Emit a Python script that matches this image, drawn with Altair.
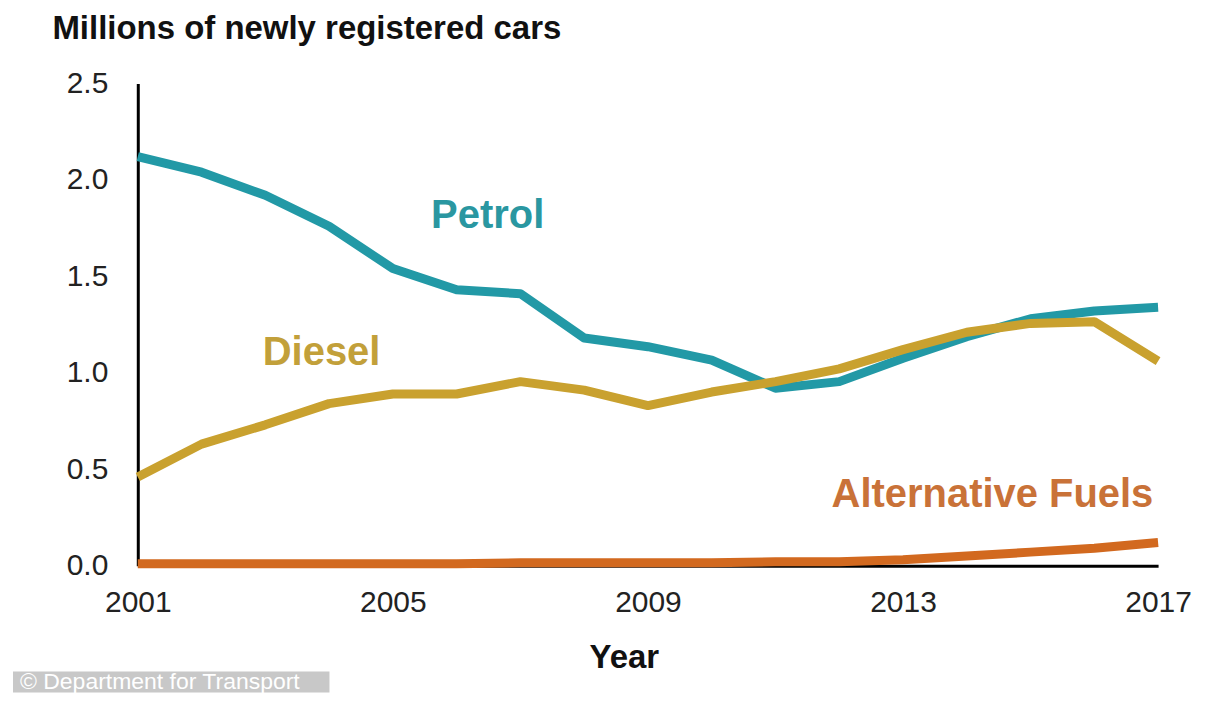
import altair as alt
import pandas as pd

years = list(range(2001, 2018))
petrol = [2.12, 2.04, 1.92, 1.76, 1.54, 1.43, 1.41, 1.18, 1.135, 1.066, 0.92, 0.954, 1.075, 1.187, 1.28, 1.32, 1.34]
diesel = [0.46, 0.63, 0.73, 0.84, 0.89, 0.89, 0.954, 0.91, 0.83, 0.90, 0.954, 1.02, 1.12, 1.21, 1.256, 1.265, 1.06]
alt_fuels = [0.01, 0.01, 0.01, 0.01, 0.01, 0.01, 0.015, 0.015, 0.015, 0.015, 0.02, 0.02, 0.03, 0.05, 0.07, 0.09, 0.12]

series_names = ["Petrol", "Diesel", "Alternative Fuels"]
line_colors = ["#2299A6", "#C9A12F", "#D2691F"]
text_colors = ["#2A97A1", "#C2A03A", "#C97238"]

label_year = [2005.6, 2002.96, 2011.88]
label_value = [1.75, 1.04, 0.305]

x_ticks = [2001, 2005, 2009, 2013, 2017]
y_ticks = [0.0, 0.5, 1.0, 1.5, 2.0, 2.5]

FONT = "Liberation Sans"

rows = []
for name, vals in zip(series_names, [petrol, diesel, alt_fuels]):
    for y, v in zip(years, vals):
        rows.append({"Year": y, "Value": v, "Series": name})
df = pd.DataFrame(rows)

labels = pd.DataFrame({"Series": series_names, "Year": label_year, "Value": label_value})

xscale = alt.Scale(domain=[2001, 2017], nice=False, zero=False)
yscale = alt.Scale(domain=[0, 2.5], nice=False)

x_axis = alt.Axis(values=x_ticks, format="d", title="Year", grid=False, ticks=False,
                  domainColor="black", domainWidth=3, labelFontSize=30, labelColor="#222",
                  labelFont=FONT, labelPadding=22, labelFlush=False, labelOverlap=False,
                  titleFont=FONT, titleFontSize=33,
                  titleFontWeight="bold", titleColor="#111", titleAngle=0,
                  titleAlign="left", titleBaseline="alphabetic", titleX=452, titleY=102)
y_axis = alt.Axis(values=y_ticks, format=".1f", title="Millions of newly registered cars",
                  grid=False, ticks=False, domainColor="black", domainWidth=3,
                  labelFontSize=30, labelColor="#222", labelFont=FONT, labelPadding=30,
                  labelFlush=False, labelOverlap=False,
                  titleFont=FONT, titleFontSize=33, titleFontWeight="bold", titleColor="#111",
                  titleAngle=0, titleAlign="left", titleBaseline="alphabetic",
                  titleX=-86, titleY=-45)

enc_x = alt.X("Year:Q", scale=xscale, axis=x_axis)
enc_y = alt.Y("Value:Q", scale=yscale, axis=y_axis)

layers = []
for i, name in enumerate(series_names):
    layers.append(
        alt.Chart(df).transform_filter(alt.datum.Series == name)
        .mark_line(strokeWidth=9, color=line_colors[i], strokeCap="butt", strokeJoin="round")
        .encode(x=enc_x, y=enc_y)
    )

text_layer = alt.Chart(labels).mark_text(
    font=FONT, fontSize=40, fontWeight="bold", align="left", baseline="alphabetic"
).encode(
    x=enc_x,
    y=enc_y,
    text="Series:N",
    color=alt.Color("Series:N", scale=alt.Scale(domain=series_names, range=text_colors), legend=None),
)

dummy = pd.DataFrame({"a": [0]})
wm_rect = alt.Chart(dummy).mark_rect(color="#c8c8c8", clip=False).encode(
    x=alt.value(-125), x2=alt.value(192), y=alt.value(589), y2=alt.value(610))
wm_text = alt.Chart(dummy).mark_text(
    text="© Department for Transport", font=FONT, fontSize=23, color="white",
    align="left", baseline="middle", clip=False
).encode(x=alt.value(-118), y=alt.value(600))

chart = alt.layer(*layers, text_layer, wm_rect, wm_text).properties(
    width=1022, height=483,
    autosize=alt.AutoSizeParams(type="none"),
    padding={"left": 130, "top": 75, "right": 50, "bottom": 127},
    background="white",
).configure_view(stroke=None)

chart.save("out.html", embed_options={"renderer": "svg", "actions": False})
